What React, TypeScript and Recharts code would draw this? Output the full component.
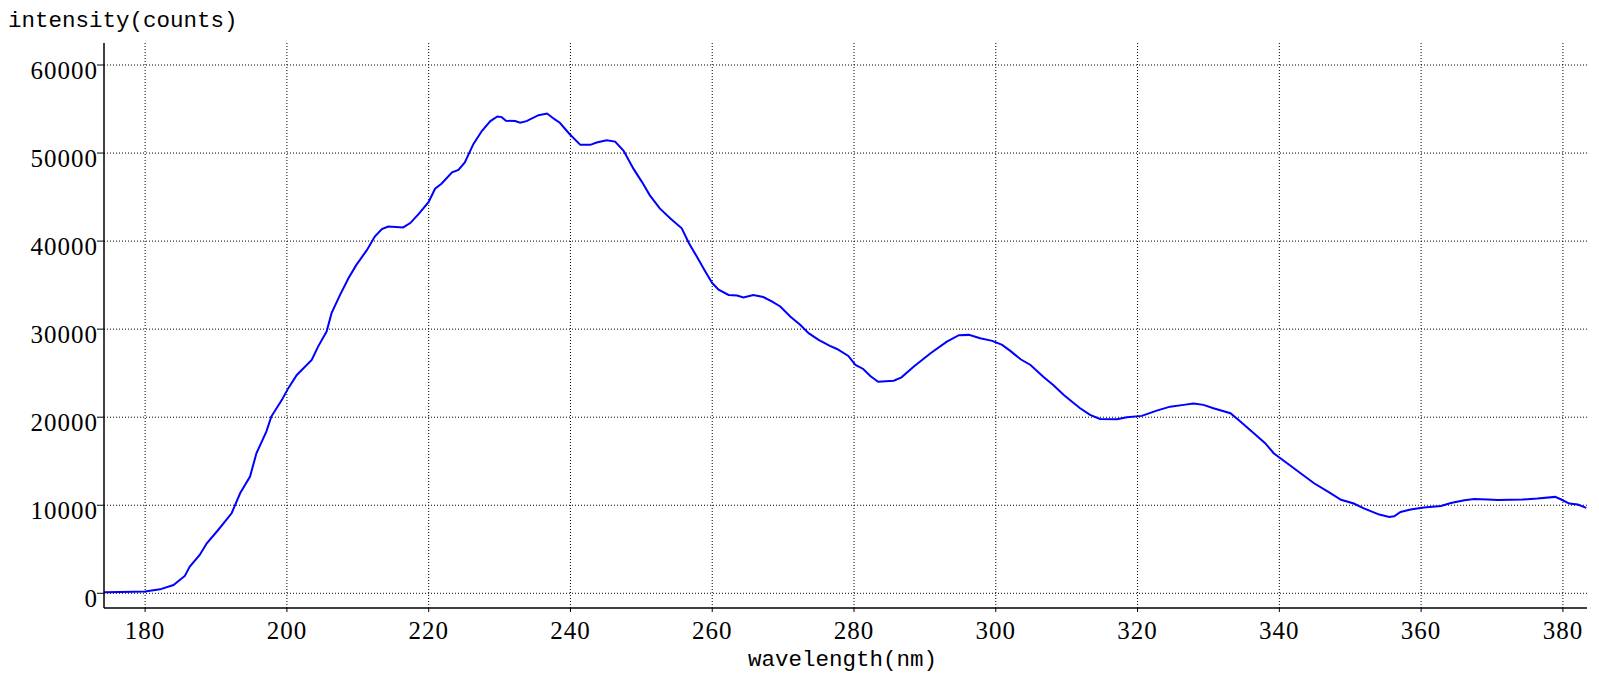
import React from 'react';
import { LineChart, Line, XAxis, YAxis, CartesianGrid } from 'recharts';

const wavelength = [
  174.2, 176.4, 178.5, 180.0, 182.1, 184.0, 185.6, 186.3, 187.7, 188.7,
  190.3, 192.2, 193.4, 194.8, 195.7, 197.1, 197.8, 199.3, 200.2, 201.4,
  203.5, 204.4, 205.6, 206.3, 207.5, 208.7, 209.8, 211.3, 212.4, 213.4,
  214.3, 216.4, 217.4, 218.6, 220.0, 220.9, 221.8, 223.3, 224.2, 225.1,
  226.3, 227.5, 228.7, 229.7, 230.3, 230.9, 232.2, 232.9, 233.8, 235.5,
  236.7, 237.8, 238.5, 239.9, 241.4, 242.8, 243.7, 245.1, 246.3, 247.5,
  248.9, 250.1, 251.2, 252.6, 254.1, 255.7, 256.7, 257.8, 259.0, 260.0,
  260.9, 262.3, 263.5, 264.4, 265.8, 267.2, 268.4, 269.6, 271.0, 272.4,
  273.6, 275.0, 276.6, 277.6, 279.2, 280.2, 281.3, 282.3, 283.4, 285.6,
  286.7, 288.4, 290.8, 293.1, 294.8, 296.2, 297.8, 299.5, 300.9, 302.0,
  303.5, 304.9, 306.7, 308.1, 309.6, 310.5, 311.9, 313.3, 314.7, 317.1,
  318.5, 320.6, 322.7, 324.6, 326.5, 327.9, 329.3, 330.7, 333.1, 334.5,
  336.4, 338.0, 339.2, 341.1, 343.0, 344.9, 346.8, 348.7, 350.5, 352.0,
  354.1, 355.5, 356.2, 357.1, 358.5, 360.4, 362.8, 364.2, 366.1, 367.5,
  369.4, 370.8, 374.3, 376.4, 378.9, 379.7, 380.9, 382.1, 383.3,
];

const intensity = [
  120, 150, 180, 200, 450, 940, 1970, 3030, 4350, 5680,
  7190, 9090, 11360, 13250, 15900, 18360, 20070, 21970, 23300, 24800,
  26500, 28020, 29730, 31820, 33900, 35800, 37300, 39000, 40520, 41360,
  41660, 41550, 42050, 43100, 44450, 45950, 46520, 47820, 48090, 48940,
  51010, 52500, 53630, 54160, 54080, 53670, 53630, 53440, 53630, 54300,
  54490, 53820, 53440, 52140, 50930, 50930, 51190, 51460, 51300, 50260,
  48200, 46700, 45200, 43710, 42580, 41460, 39780, 38270, 36580, 35240,
  34480, 33880, 33830, 33600, 33880, 33650, 33150, 32580, 31440, 30490,
  29540, 28780, 28100, 27750, 26960, 25930, 25480, 24680, 24030, 24140,
  24530, 25740, 27260, 28590, 29320, 29350, 28970, 28670, 28210, 27560,
  26580, 25930, 24600, 23650, 22510, 21920, 21020, 20260, 19800, 19770,
  20000, 20150, 20750, 21200, 21400, 21550, 21400, 21020, 20450, 19500,
  18180, 17050, 15910, 14770, 13640, 12500, 11580, 10620, 10200, 9620,
  8940, 8670, 8750, 9240, 9510, 9740, 9920, 10260, 10570, 10720,
  10650, 10600, 10650, 10760, 10950, 10680, 10190, 10080, 9700,
];

const xTicks = [180, 200, 220, 240, 260, 280, 300, 320, 340, 360, 380];
const yTicks = [0, 10000, 20000, 30000, 40000, 50000, 60000];
const xDomain = [174.2, 383.4];
const yDomain = [-1670, 62500];
const xTitle = 'wavelength(nm)';
const yTitle = 'intensity(counts)';

const data = wavelength.map((w, i) => ({ w, v: intensity[i] }));

const TICK_FONT = '"Liberation Serif", "Times New Roman", serif';
const TITLE_FONT = '"Liberation Mono", "Courier New", monospace';

const XTick = (props: any) => {
  const { x, y, payload } = props;
  return (
    <text x={x} y={y + 27} textAnchor="middle" style={{ fontFamily: TICK_FONT, fontSize: 25, letterSpacing: 1 }} fill="#000">
      {payload.value}
    </text>
  );
};

const YTick = (props: any) => {
  const { x, y, payload } = props;
  return (
    <text x={x + 1} y={y + 13.5} textAnchor="end" style={{ fontFamily: TICK_FONT, fontSize: 25, letterSpacing: 1 }} fill="#000">
      {payload.value}
    </text>
  );
};

const XTitle = (props: any) => {
  const vb = props.viewBox ?? { x: 104, y: 608, width: 1483, height: 66 };
  return (
    <text x={vb.x + vb.width / 2 - 3} y={vb.y + 58} textAnchor="middle" style={{ fontFamily: TITLE_FONT, fontSize: 22.5 }} fill="#000">
      {xTitle}
    </text>
  );
};

const YTitle = () => {
  return (
    <text x={8} y={27} textAnchor="start" style={{ fontFamily: TITLE_FONT, fontSize: 22.5 }} fill="#000">
      {yTitle}
    </text>
  );
};

const scaleY = (p: any, t: number) => {
  const s = p?.yAxis?.scale;
  if (typeof s === 'function') return s(t);
  if (s && typeof s.map === 'function') return s.map(t);
  const o = p.offset;
  return o.top + (o.height * (yDomain[1] - t)) / (yDomain[1] - yDomain[0]);
};

const scaleX = (p: any, t: number) => {
  const s = p?.xAxis?.scale;
  if (typeof s === 'function') return s(t);
  if (s && typeof s.map === 'function') return s.map(t);
  const o = p.offset;
  return o.left + (o.width * (t - xDomain[0])) / (xDomain[1] - xDomain[0]);
};

export default function App() {
  return (
    <div style={{ position: 'absolute', left: 0, top: 0, width: 1599, height: 674, background: '#fff' }}>
      <LineChart width={1599} height={674} data={data} margin={{ top: 43, right: 12, bottom: 0, left: 0 }}>
        <CartesianGrid
          stroke="#000"
          strokeDasharray="1 2"
          strokeWidth={1}
          horizontalCoordinatesGenerator={(p: any) => yTicks.map((t) => scaleY(p, t))}
          verticalCoordinatesGenerator={(p: any) => xTicks.map((t) => scaleX(p, t))}
        />
        <XAxis
          dataKey="w"
          type="number"
          domain={xDomain}
          ticks={xTicks}
          allowDataOverflow
          height={66}
          tickSize={4}
          tickMargin={0}
          stroke="#000"
          axisLine={{ stroke: '#000', strokeWidth: 1.5 }}
          tickLine={{ stroke: '#000', strokeWidth: 1 }}
          tick={<XTick />}
          label={<XTitle />}
          interval={0}
        />
        <YAxis
          type="number"
          domain={yDomain}
          ticks={yTicks}
          allowDataOverflow
          width={104}
          tickSize={7}
          tickMargin={0}
          stroke="#000"
          axisLine={{ stroke: '#000', strokeWidth: 1.5 }}
          tickLine={{ stroke: '#000', strokeWidth: 1 }}
          tick={<YTick />}
          label={<YTitle />}
          interval={0}
        />
        <Line
          type="linear"
          dataKey="v"
          stroke="#0000ff"
          strokeWidth={2}
          dot={false}
          activeDot={false}
          isAnimationActive={false}
        />
      </LineChart>
    </div>
  );
}
